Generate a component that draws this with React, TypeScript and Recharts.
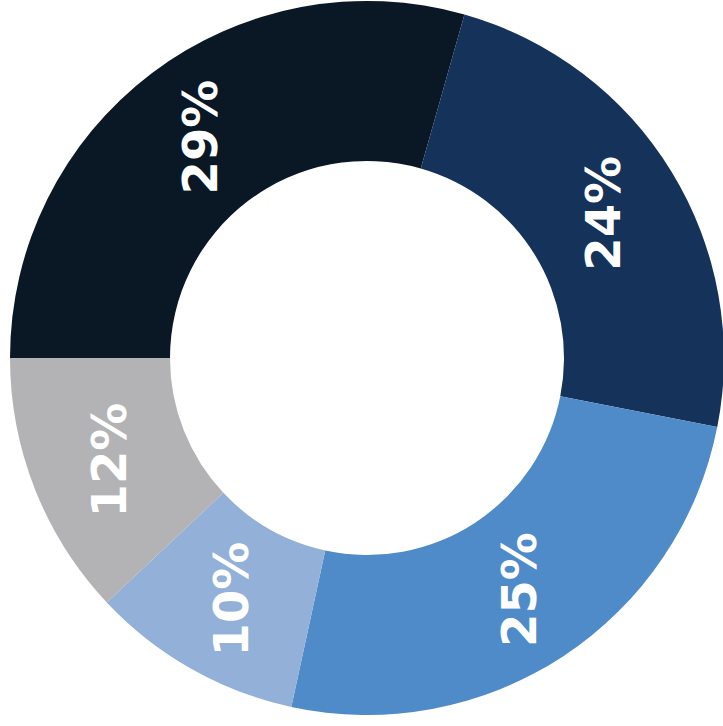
import { Cell, Pie, PieChart } from "recharts"

// datos del grafico (en sentido horario desde las 9)
const labels = ["A", "B", "C", "D", "E"]
const values = [29.4, 23.7, 25.3, 9.6, 12.0]
const COLORS = ["#0a1825", "#15325b", "#4f8bc9", "#92b0d8", "#b3b3b5"]

const data = labels.map((name, i) => ({ name, value: values[i] }))

const RADIAN = Math.PI / 180

const renderLabel = ({ cx, cy, midAngle, innerRadius, outerRadius, percent }: any) => {
    const radius = innerRadius + (outerRadius - innerRadius) * 0.5
    const x = cx + radius * Math.cos(-midAngle * RADIAN)
    const y = cy + radius * Math.sin(-midAngle * RADIAN)
    return (
        <text
            x={x}
            y={y}
            fill="white"
            textAnchor="middle"
            dominantBaseline="central"
            transform={`rotate(-90 ${x} ${y})`}
            style={{ fontFamily: "DejaVu Sans", fontWeight: "bold", fontSize: 48 }}
        >
            {`${Math.round(percent * 100)}%`}
        </text>
    )
}

export default function App() {
    return (
        <div style={{ position: "absolute", left: 0, top: 0 }}>
            <PieChart width={723} height={726} margin={{ top: 0, right: 0, bottom: 0, left: 0 }}>
                <Pie
                    data={data}
                    dataKey="value"
                    cx={367}
                    cy={358}
                    innerRadius={197}
                    outerRadius={357}
                    startAngle={180}
                    endAngle={-180}
                    stroke="none"
                    label={renderLabel}
                    labelLine={false}
                    isAnimationActive={false}
                >
                    {data.map((entry, index) => (
                        <Cell key={`cell-${index}`} fill={COLORS[index]} />
                    ))}
                </Pie>
            </PieChart>
        </div>
    )
}
